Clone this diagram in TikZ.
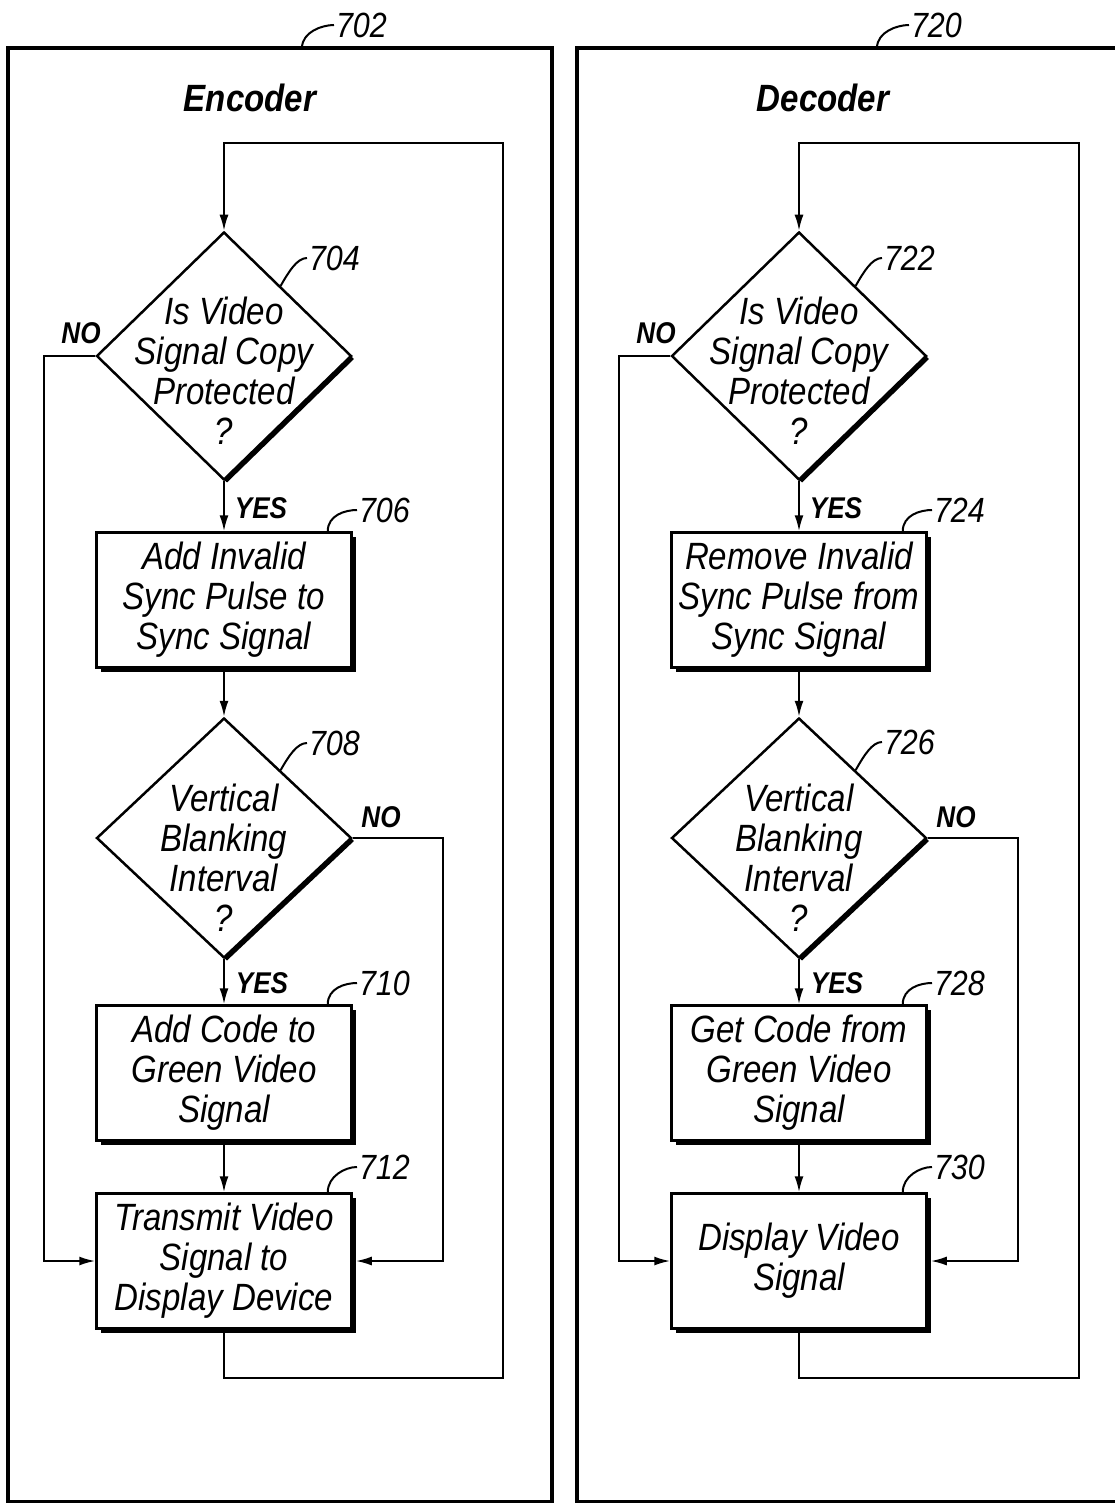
\documentclass[tikz,border=0pt]{standalone}
\usepackage{fontspec}
\setmainfont{Liberation Sans}[FakeStretch=0.87]
\usetikzlibrary{shapes.geometric,shadows,arrows.meta,calc}
\begin{document}
\begin{tikzpicture}[x=1pt,y=-1pt,line width=2pt,
    >={Latex[length=16pt,width=9pt]},
    frame/.style={line width=3.5pt},
    stepbox/.style={draw,fill=white,line width=2.5pt,minimum width=255pt,minimum height=135pt,inner sep=0pt,
        font=\fontsize{38}{40}\selectfont\itshape,align=center,
        drop shadow={shadow xshift=4pt,shadow yshift=-4pt,fill=black,opacity=1}},
    query/.style={diamond,draw,fill=white,line width=2.5pt,minimum width=255pt,minimum height=248pt,inner sep=0pt,
        drop shadow={shadow xshift=3pt,shadow yshift=-3pt,fill=black,opacity=1}},
    qtext/.style={font=\fontsize{38}{40}\selectfont\itshape,align=center,inner sep=0pt},
    title/.style={font=\fontsize{38}{40}\selectfont\bfseries\itshape},
    answer/.style={font=\fontsize{30}{30}\selectfont\bfseries\itshape,inner sep=0pt},
    num/.style={font=\fontsize{35}{35}\selectfont\itshape,inner sep=1pt,anchor=west}]
    \useasboundingbox (0,0) rectangle (1115,1503);
    \draw[frame] (8,48) rectangle (552,1502);
    \draw[frame] (577,48) rectangle (1140,1502);
    \coordinate (f702) at (302,48);
    \coordinate (f720) at (877,48);
    \coordinate (eloop) at (503,143);
    \coordinate (dloop) at (1079,143);

    \node[title] (enc) at (250,98) {Encoder};
    \node[query] (d704) at (224,356) {};
    \node[qtext] (t704) at (224,371) {Is Video\\Signal Copy\\Protected\\?};
    \node[stepbox] (b706) at (224,600) {Add Invalid\\Sync Pulse to\\Sync Signal};
    \node[query,minimum height=240pt] (d708) at (224,838) {};
    \node[qtext] (t708) at (224,858) {Vertical\\Blanking\\Interval\\?};
    \node[stepbox] (b710) at (224,1073) {Add Code to\\Green Video\\Signal};
    \node[stepbox] (b712) at (224,1261) {Transmit Video\\Signal to\\Display Device};
    \node[answer] (no704) at (81,333) {NO};
    \node[answer] (yes704) at (261,508) {YES};
    \node[answer] (no708) at (381,817) {NO};
    \node[answer] (yes708) at (262,983) {YES};
    \node[num] (n702) at (334,25) {702};
    \node[num] (n704) at (307,258) {704};
    \node[num] (n706) at (357,510) {706};
    \node[num] (n708) at (307,743) {708};
    \node[num] (n710) at (357,983) {710};
    \node[num] (n712) at (357,1167) {712};
    \draw[->] (d704.south) -- (b706.north);
    \draw[->] (b706.south) -- (d708.north);
    \draw[->] (d708.south) -- (b710.north);
    \draw[->] (b710.south) -- (b712.north);
    \draw[->] (d704.west) -- ++(-51,0) |- (b712.west);
    \draw[->,shorten >=3pt] (d708.east) -- ++(90,0) |- (b712.east);
    \draw[->] (b712.south) -- ++(0,48) -| (eloop) -| (d704.north);
    \draw (f702) .. controls +(0,-16) and +(-12,0) .. (n702.west);
    \draw ($(d704.north)!0.44!(d704.east)$) .. controls +(8,-14) and +(-10,0) .. (n704.west);
    \draw ([xshift=-25pt]b706.north east) .. controls +(0,-16) and +(-12,0) .. (n706.west);
    \draw ($(d708.north)!0.44!(d708.east)$) .. controls +(8,-14) and +(-10,0) .. (n708.west);
    \draw ([xshift=-25pt]b710.north east) .. controls +(0,-16) and +(-12,0) .. (n710.west);
    \draw ([xshift=-25pt]b712.north east) .. controls +(0,-16) and +(-12,0) .. (n712.west);

    \node[title] (dec) at (823,98) {Decoder};
    \node[query] (d722) at (799,356) {};
    \node[qtext] (t722) at (799,371) {Is Video\\Signal Copy\\Protected\\?};
    \node[stepbox] (b724) at (799,600) {Remove Invalid\\Sync Pulse from\\Sync Signal};
    \node[query,minimum height=240pt] (d726) at (799,838) {};
    \node[qtext] (t726) at (799,858) {Vertical\\Blanking\\Interval\\?};
    \node[stepbox] (b728) at (799,1073) {Get Code from\\Green Video\\Signal};
    \node[stepbox] (b730) at (799,1261) {Display Video\\Signal};
    \node[answer] (no722) at (656,333) {NO};
    \node[answer] (yes722) at (836,508) {YES};
    \node[answer] (no726) at (956,817) {NO};
    \node[answer] (yes726) at (837,983) {YES};
    \node[num] (n720) at (909,25) {720};
    \node[num] (n722) at (882,258) {722};
    \node[num] (n724) at (932,510) {724};
    \node[num] (n726) at (882,742) {726};
    \node[num] (n728) at (932,983) {728};
    \node[num] (n730) at (932,1167) {730};
    \draw[->] (d722.south) -- (b724.north);
    \draw[->] (b724.south) -- (d726.north);
    \draw[->] (d726.south) -- (b728.north);
    \draw[->] (b728.south) -- (b730.north);
    \draw[->] (d722.west) -- ++(-51,0) |- (b730.west);
    \draw[->,shorten >=3pt] (d726.east) -- ++(90,0) |- (b730.east);
    \draw[->] (b730.south) -- ++(0,48) -| (dloop) -| (d722.north);
    \draw (f720) .. controls +(0,-16) and +(-12,0) .. (n720.west);
    \draw ($(d722.north)!0.44!(d722.east)$) .. controls +(8,-14) and +(-10,0) .. (n722.west);
    \draw ([xshift=-25pt]b724.north east) .. controls +(0,-16) and +(-12,0) .. (n724.west);
    \draw ($(d726.north)!0.44!(d726.east)$) .. controls +(8,-14) and +(-10,0) .. (n726.west);
    \draw ([xshift=-25pt]b728.north east) .. controls +(0,-16) and +(-12,0) .. (n728.west);
    \draw ([xshift=-25pt]b730.north east) .. controls +(0,-16) and +(-12,0) .. (n730.west);
\end{tikzpicture}
\end{document}
